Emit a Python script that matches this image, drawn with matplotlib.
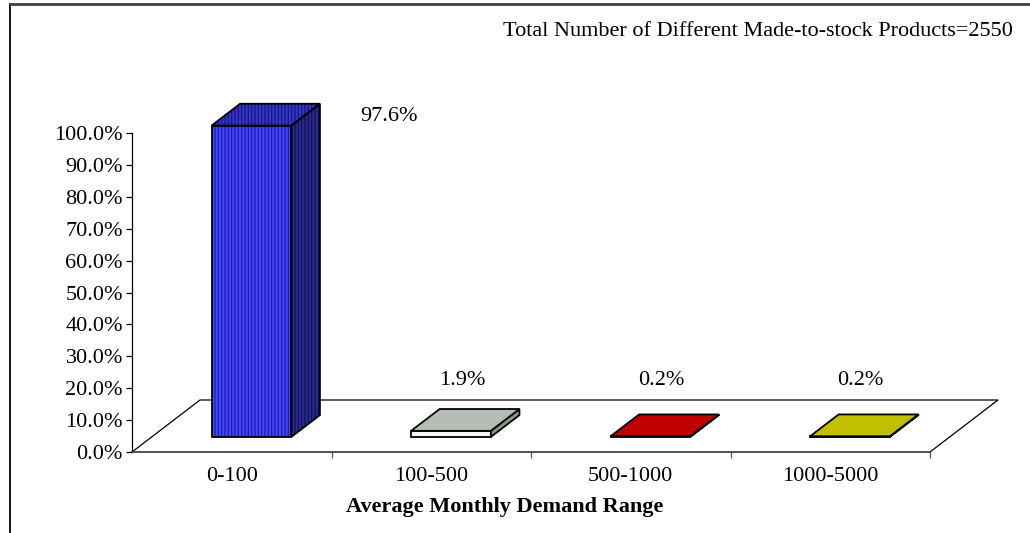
import matplotlib
matplotlib.use('Agg')
from matplotlib import pyplot as plt
from matplotlib.lines import Line2D
from matplotlib.patches import Polygon
from matplotlib.ticker import FuncFormatter

plt.rcParams['font.family'] = ['Liberation Serif', 'DejaVu Serif']
plt.rcParams['hatch.linewidth'] = 1.0

categories = ['0-100', '100-500', '500-1000', '1000-5000']
shares = [97.6, 1.9, 0.2, 0.2]
label_texts = ['97.6%', '1.9%', '0.2%', '0.2%']
yticks = [0, 10, 20, 30, 40, 50, 60, 70, 80, 90, 100]
note = 'Total Number of Different Made-to-stock Products=2550'
xlabel = 'Average Monthly Demand Range'

# face colours per bar: front, top, side, stripe colours (None = plain)
front_cols = ['#4646ff', '#f0f8f0', '#c00000', '#c0c000']
top_cols = ['#3636cc', '#b4beb4', '#c00000', '#c0c000']
side_cols = ['#2a2a90', '#8c968c', '#800000', '#808000']
stripe_cols = [('#1e1eb0', '#18187e', '#14145c'), None, None, None]
label_offsets = [(109, -13), (-17, 29), (-18, 34), (-18, 34)]

FS = 16
W, H = 1030, 533
fig = plt.figure(figsize=(W / 100, H / 100), dpi=100)
ax = fig.add_axes([132 / W, (H - 452) / H, (930 - 132) / W, (452 - 133) / H])
ax.set_xlim(-0.5, 3.5)
ax.set_ylim(0, 100)

# oblique depth of the floor, in data units
DX = 68 / 199.5
DY = 52 / 3.19
d0, d1 = 0.29, 0.71
bw = 0.4

floor = Line2D([-0.5, -0.5 + DX, 3.5 + DX, 3.5], [0, DY, DY, 0],
               color='black', lw=0.9, clip_on=False, zorder=1)
ax.add_line(floor)


def face(pts, fc, stripe=None):
    if stripe:
        ax.add_patch(Polygon(pts, closed=True, facecolor=fc, edgecolor=stripe,
                             hatch='|||||', lw=0, clip_on=False, zorder=2))
        ax.add_patch(Polygon(pts, closed=True, fill=False, edgecolor='black',
                             lw=1.3, clip_on=False, zorder=3,
                             joinstyle='miter'))
    else:
        ax.add_patch(Polygon(pts, closed=True, facecolor=fc,
                             edgecolor='black', lw=1.3, clip_on=False,
                             zorder=3, joinstyle='miter'))


for i, v in enumerate(shares):
    x0 = i - bw / 2
    x1 = i + bw / 2
    ox0, oy0 = d0 * DX, d0 * DY
    ox1, oy1 = d1 * DX, d1 * DY
    st = stripe_cols[i] or (None, None, None)
    face([(x0 + ox0, oy0), (x1 + ox0, oy0), (x1 + ox0, oy0 + v),
          (x0 + ox0, oy0 + v)], front_cols[i], st[0])
    face([(x1 + ox0, oy0), (x1 + ox1, oy1), (x1 + ox1, oy1 + v),
          (x1 + ox0, oy0 + v)], side_cols[i], st[2])
    face([(x0 + ox0, oy0 + v), (x1 + ox0, oy0 + v), (x1 + ox1, oy1 + v),
          (x0 + ox1, oy1 + v)], top_cols[i], st[1])
    ax.annotate(label_texts[i], xy=(i + ox1, oy1 + v),
                xytext=label_offsets[i], textcoords='offset pixels',
                ha='center', va='center', fontsize=FS, annotation_clip=False)

for s in ['top', 'right']:
    ax.spines[s].set_visible(False)
ax.spines['left'].set_linewidth(0.9)
ax.spines['bottom'].set_linewidth(1.2)
ax.spines['bottom'].set_color('#333333')

ax.set_yticks(yticks)
ax.yaxis.set_major_formatter(FuncFormatter(lambda y, _: f'{y:.1f}%'))
ax.tick_params(axis='y', direction='out', length=4.5, width=0.9, pad=2,
               labelsize=FS)
ax.set_xticks([0.5, 1.5, 2.5, 3.5])
ax.set_xticklabels([])
ax.set_xticks(range(len(categories)), categories, minor=True)
ax.tick_params(axis='x', which='major', direction='out', length=4.5,
               width=0.9, color='#555555')
ax.tick_params(axis='x', which='minor', length=0, pad=11, labelsize=FS)

fig.text(505 / W, 1 - 507 / H, xlabel, ha='center', va='center',
         fontsize=FS, fontweight='bold')
fig.text(1013 / W, 1 - 32 / H, note, ha='right', va='center', fontsize=FS)

# outer frame
fig.add_artist(Line2D([10 / W, 10 / W], [0, 1 - 4 / H], color='black', lw=1.3,
                      transform=fig.transFigure))
fig.add_artist(Line2D([10 / W, 1], [1 - 4 / H, 1 - 4 / H], color='#404040',
                      lw=2, transform=fig.transFigure))

fig.savefig('out.png', dpi=100)
